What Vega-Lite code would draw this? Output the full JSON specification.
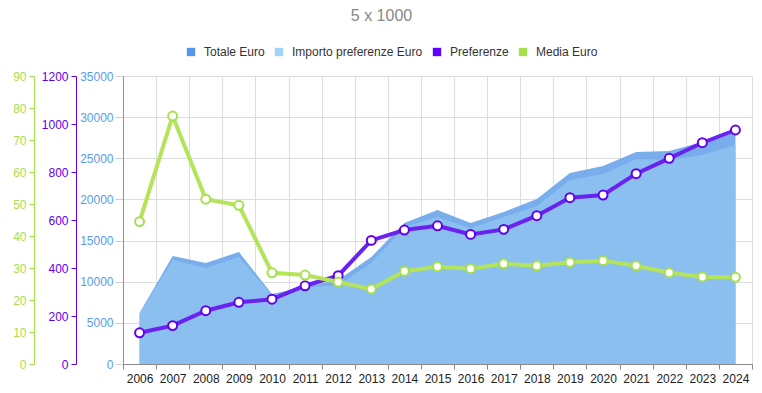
{
  "$schema": "https://vega.github.io/schema/vega-lite/v6.json",
  "width": 629,
  "height": 288,
  "autosize": {"type": "none"},
  "padding": {"left": 123, "top": 76, "right": 10, "bottom": 29},
  "background": "white",
  "title": {"text": "5 x 1000", "anchor": "middle", "dx": -56, "offset": 22, "fontSize": 16, "fontWeight": "normal", "color": "#888888", "font": "Liberation Sans"},
  "config": {
    "view": {"stroke": null},
    "font": "Liberation Sans",
    "axis": {"labelFont": "Liberation Sans", "labelFontSize": 12, "gridColor": "#dddddd", "gridOpacity": 1}
  },
  "datasets": {
    "main": [
      {"year": "2006", "totale": 6200, "importo": 6100, "pref": 130, "media": 44.5},
      {"year": "2007", "totale": 13120, "importo": 12640, "pref": 160, "media": 77.5},
      {"year": "2008", "totale": 12270, "importo": 11660, "pref": 222, "media": 51.5},
      {"year": "2009", "totale": 13610, "importo": 13000, "pref": 257, "media": 49.6},
      {"year": "2010", "totale": 8500, "importo": 8380, "pref": 270, "media": 28.5},
      {"year": "2011", "totale": 9400, "importo": 9300, "pref": 326, "media": 27.8},
      {"year": "2012", "totale": 10200, "importo": 9600, "pref": 368, "media": 25.6},
      {"year": "2013", "totale": 13000, "importo": 12270, "pref": 515, "media": 23.4},
      {"year": "2014", "totale": 17130, "importo": 16650, "pref": 558, "media": 29},
      {"year": "2015", "totale": 18710, "importo": 17860, "pref": 576, "media": 30.4},
      {"year": "2016", "totale": 17130, "importo": 16520, "pref": 540, "media": 29.8},
      {"year": "2017", "totale": 18470, "importo": 17860, "pref": 561, "media": 31.3},
      {"year": "2018", "totale": 20050, "importo": 19200, "pref": 618, "media": 30.7},
      {"year": "2019", "totale": 23200, "importo": 22360, "pref": 693, "media": 31.8},
      {"year": "2020", "totale": 24060, "importo": 23090, "pref": 704, "media": 32.3},
      {"year": "2021", "totale": 25760, "importo": 24910, "pref": 793, "media": 30.7},
      {"year": "2022", "totale": 25880, "importo": 24790, "pref": 857, "media": 28.5},
      {"year": "2023", "totale": 26970, "importo": 25400, "pref": 922, "media": 27.2},
      {"year": "2024", "totale": 28190, "importo": 26610, "pref": 975, "media": 27.1}
    ],
    "legend": [
      {"series": "Totale Euro"},
      {"series": "Importo preferenze Euro"},
      {"series": "Preferenze"},
      {"series": "Media Euro"}
    ]
  },
  "layer": [
    {
      "data": {"name": "main"},
      "mark": {"type": "area", "fill": "#6fa6ea", "opacity": 0.92},
      "encoding": {
        "x": {"field": "year", "type": "ordinal",
          "scale": {"type": "band", "paddingInner": 0, "paddingOuter": 0},
          "axis": {"title": null, "labelAngle": 0, "tickBand": "extent", "grid": true, "domainColor": "#888888", "tickColor": "#888888", "tickSize": 5, "labelColor": "#222222", "labelPadding": 4}},
        "y": {"field": "totale", "type": "quantitative", "scale": {"domain": [0, 35000], "nice": false},
          "axis": {"title": null, "orient": "left", "offset": 0, "format": "d", "values": [0, 5000, 10000, 15000, 20000, 25000, 30000, 35000], "grid": true, "domainColor": "#5a9bea", "tickColor": "#cccccc", "labelColor": "#5a9bea", "tickSize": 8, "labelPadding": 2}}
      }
    },
    {
      "data": {"name": "main"},
      "mark": {"type": "area", "fill": "#8bc0f0", "opacity": 0.95},
      "encoding": {
        "x": {"field": "year", "type": "ordinal", "scale": {"type": "band", "paddingInner": 0, "paddingOuter": 0}},
        "y": {"field": "importo", "type": "quantitative", "scale": {"domain": [0, 35000], "nice": false}, "axis": null}
      }
    },
    {
      "data": {"name": "main"},
      "mark": {"type": "line", "stroke": "#6a22f0", "strokeWidth": 4, "point": {"filled": true, "fill": "white", "stroke": "#6200ee", "strokeWidth": 2, "size": 80}},
      "encoding": {
        "x": {"field": "year", "type": "ordinal", "scale": {"type": "band", "paddingInner": 0, "paddingOuter": 0}},
        "y": {"field": "pref", "type": "quantitative", "scale": {"domain": [0, 1200], "nice": false},
          "axis": {"title": null, "orient": "left", "offset": 47, "format": "d", "values": [0, 200, 400, 600, 800, 1000, 1200], "grid": false, "domainColor": "#6200ee", "tickColor": "#6200ee", "labelColor": "#6200ee", "tickSize": 5, "labelPadding": 3}}
      }
    },
    {
      "data": {"name": "main"},
      "mark": {"type": "line", "stroke": "#b4e35c", "strokeWidth": 4, "point": {"filled": true, "fill": "white", "stroke": "#a8e04c", "strokeWidth": 2, "size": 80}},
      "encoding": {
        "x": {"field": "year", "type": "ordinal", "scale": {"type": "band", "paddingInner": 0, "paddingOuter": 0}},
        "y": {"field": "media", "type": "quantitative", "scale": {"domain": [0, 90], "nice": false},
          "axis": {"title": null, "orient": "left", "offset": 89, "format": "d", "values": [0, 10, 20, 30, 40, 50, 60, 70, 80, 90], "grid": false, "domainColor": "#a8e04c", "tickColor": "#a8e04c", "labelColor": "#a8e04c", "tickSize": 5, "labelPadding": 3}}
      }
    },
    {
      "data": {"name": "legend"},
      "mark": {"type": "square", "opacity": 0, "size": 1},
      "encoding": {
        "color": {"field": "series", "type": "nominal",
          "scale": {"domain": ["Totale Euro", "Importo preferenze Euro", "Preferenze", "Media Euro"], "range": ["#5596ea", "#9fd3f7", "#6200ff", "#a6e04a"]},
          "legend": {"title": null, "orient": "none", "direction": "horizontal", "legendX": 62, "legendY": -30, "symbolType": "square", "symbolSize": 70, "symbolOpacity": 1, "symbolStrokeWidth": 0, "labelFontSize": 12, "labelColor": "#333333", "labelFont": "Liberation Sans", "labelOffset": 7, "columnPadding": 8}
        }
      }
    }
  ],
  "resolve": {"scale": {"y": "independent"}, "axis": {"y": "independent"}}
}
